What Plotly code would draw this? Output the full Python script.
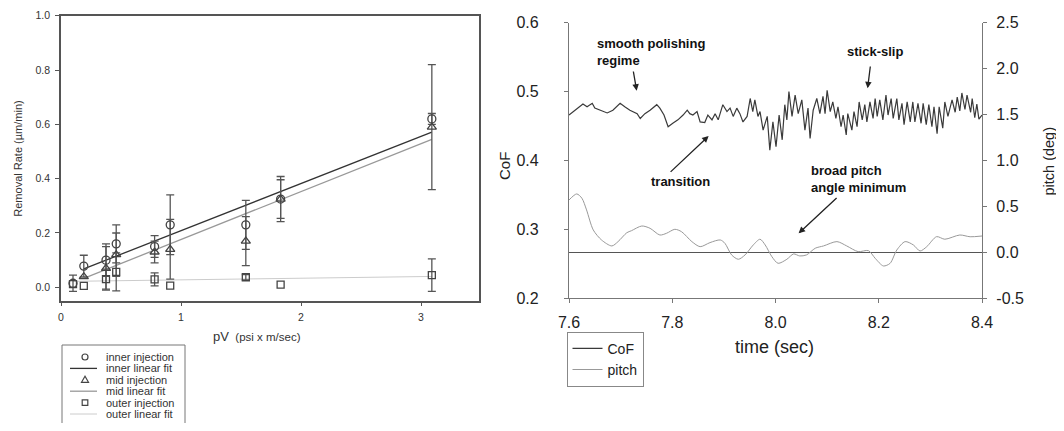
import plotly.graph_objects as go

# page body adds an 8px margin; the figure is sized/positioned to compensate
OFF = 8
W, H = 1064 - 2 * OFF, 431 - 2 * OFF

# ---------------- left panel data ----------------
pv = [0.10, 0.19, 0.375, 0.46, 0.78, 0.91, 1.54, 1.83, 3.09]
inner_rate = [0.015, 0.078, 0.10, 0.16, 0.15, 0.23, 0.23, 0.325, 0.62]
inner_err = [0.03, 0.04, 0.06, 0.07, 0.04, 0.11, 0.09, 0.083, 0.02]
mid_pv = [0.19, 0.375, 0.46, 0.78, 0.91, 1.54, 1.83, 3.09]
mid_rate = [0.039, 0.07, 0.12, 0.13, 0.14, 0.17, 0.325, 0.59]
mid_err = [0.0, 0.08, 0.08, 0.04, 0.11, 0.09, 0.071, 0.23]
outer_rate = [0.012, 0.005, 0.03, 0.057, 0.029, 0.006, 0.037, 0.01, 0.045]
outer_err = [0.0, 0.0, 0.037, 0.07, 0.024, 0.0, 0.01, 0.0, 0.06]
fit_pv = [0.19, 3.09]
inner_fit = [0.068, 0.571]
mid_fit = [0.033, 0.545]
outer_fit_pv = [0.10, 3.09]
outer_fit = [0.022, 0.040]
left_xticks = [0, 1, 2, 3]
left_yticks = [0.0, 0.2, 0.4, 0.6, 0.8, 1.0]

# ---------------- right panel data ----------------
cof_points = [
    (7.600, 0.466), (7.608, 0.471), (7.627, 0.482), (7.635, 0.478), (7.645, 0.483),
    (7.650, 0.476), (7.666, 0.472), (7.674, 0.469), (7.685, 0.473), (7.699, 0.483),
    (7.708, 0.478), (7.718, 0.473), (7.732, 0.468), (7.738, 0.461), (7.747, 0.468),
    (7.757, 0.473), (7.770, 0.481), (7.776, 0.476), (7.784, 0.466), (7.792, 0.449),
    (7.801, 0.454), (7.811, 0.459), (7.821, 0.466), (7.829, 0.473), (7.834, 0.468),
    (7.840, 0.466), (7.848, 0.471), (7.854, 0.456), (7.863, 0.455), (7.869, 0.466),
    (7.877, 0.459), (7.883, 0.468), (7.889, 0.459), (7.898, 0.481), (7.906, 0.471),
    (7.912, 0.476), (7.918, 0.464), (7.925, 0.476), (7.931, 0.468), (7.937, 0.456),
    (7.945, 0.464), (7.951, 0.490), (7.956, 0.471), (7.960, 0.488), (7.966, 0.464),
    (7.970, 0.471), (7.976, 0.444), (7.984, 0.464), (7.989, 0.415), (7.995, 0.456),
    (8.001, 0.420), (8.007, 0.466), (8.013, 0.430), (8.018, 0.481), (8.022, 0.459),
    (8.026, 0.500), (8.032, 0.464), (8.038, 0.495), (8.044, 0.468), (8.051, 0.488),
    (8.057, 0.444), (8.063, 0.476), (8.067, 0.432), (8.073, 0.473), (8.080, 0.490),
    (8.086, 0.468), (8.092, 0.493), (8.096, 0.468), (8.100, 0.502), (8.106, 0.471),
    (8.111, 0.485), (8.117, 0.461), (8.121, 0.478), (8.127, 0.449), (8.131, 0.466),
    (8.137, 0.437), (8.140, 0.468), (8.148, 0.444), (8.152, 0.471), (8.158, 0.449),
    (8.162, 0.485), (8.168, 0.459), (8.173, 0.481), (8.177, 0.456), (8.183, 0.485),
    (8.189, 0.461), (8.193, 0.490), (8.197, 0.464), (8.202, 0.488), (8.208, 0.459),
    (8.214, 0.495), (8.218, 0.466), (8.224, 0.490), (8.228, 0.461), (8.235, 0.490),
    (8.239, 0.459), (8.245, 0.483), (8.249, 0.452), (8.255, 0.485), (8.261, 0.456),
    (8.266, 0.485), (8.270, 0.456), (8.276, 0.483), (8.282, 0.454), (8.286, 0.483),
    (8.292, 0.452), (8.297, 0.481), (8.303, 0.449), (8.307, 0.478), (8.313, 0.439),
    (8.317, 0.478), (8.324, 0.447), (8.328, 0.485), (8.334, 0.464), (8.342, 0.488),
    (8.348, 0.470), (8.352, 0.492), (8.357, 0.472), (8.361, 0.498), (8.367, 0.474),
    (8.371, 0.495), (8.378, 0.470), (8.381, 0.490), (8.386, 0.462), (8.390, 0.482),
    (8.394, 0.460), (8.400, 0.466),
]
cof_time = [p[0] for p in cof_points]
cof_value = [p[1] for p in cof_points]

pitch_points = [
    (7.600, 0.570), (7.615, 0.636), (7.625, 0.589), (7.634, 0.462), (7.647, 0.244),
    (7.663, 0.135), (7.683, 0.070), (7.695, 0.117), (7.712, 0.214), (7.721, 0.236),
    (7.741, 0.287), (7.757, 0.262), (7.776, 0.189), (7.789, 0.208), (7.805, 0.251),
    (7.818, 0.225), (7.838, 0.117), (7.854, 0.062), (7.873, 0.106), (7.893, 0.135),
    (7.902, 0.099), (7.915, -0.028), (7.928, -0.075), (7.941, -0.028), (7.957, 0.081),
    (7.970, 0.143), (7.980, 0.081), (7.993, -0.047), (8.005, -0.119), (8.022, -0.075),
    (8.035, -0.017), (8.047, -0.039), (8.060, -0.028), (8.077, 0.045), (8.093, 0.070),
    (8.119, 0.117), (8.138, 0.070), (8.160, 0.008), (8.180, 0.019), (8.193, -0.064),
    (8.209, -0.148), (8.222, -0.119), (8.235, 0.026), (8.251, 0.117), (8.267, 0.081),
    (8.280, 0.015), (8.293, 0.062), (8.312, 0.171), (8.328, 0.143), (8.357, 0.189),
    (8.377, 0.170), (8.400, 0.178),
]
pitch_time = [p[0] for p in pitch_points]
pitch_value = [p[1] for p in pitch_points]

time_ticks = [7.6, 7.8, 8.0, 8.2, 8.4]
cof_ticks = [0.2, 0.3, 0.4, 0.5, 0.6]
pitch_ticks = [-0.5, 0.0, 0.5, 1.0, 1.5, 2.0, 2.5]
pitch_tick_labels = ["-0.5", "0.0", "0.5", "1.0", "1.5", "2.0", "2.5"]

FONT = "Arial, Liberation Sans, sans-serif"
DARK = "#444444"
INNER_C, MID_C, OUTER_C = "#333333", "#999999", "#cccccc"
COF_C, PITCH_C = "#3a3a3a", "#999999"


def px(x):
    return (x - OFF) / W


def py(y):
    return 1 - (y - OFF) / H


fig = go.Figure()


def err_trace(xs, ys, es):
    sel = [i for i, e in enumerate(es) if e > 0]
    return go.Scatter(
        x=[xs[i] for i in sel], y=[ys[i] for i in sel], mode="markers",
        marker=dict(size=1, color="rgba(0,0,0,0)"),
        error_y=dict(type="data", array=[es[i] for i in sel], color="#555555",
                     thickness=1.3, width=4),
        showlegend=False, hoverinfo="skip", xaxis="x", yaxis="y")


# fit lines
fig.add_trace(go.Scatter(x=outer_fit_pv, y=outer_fit, mode="lines",
                         line=dict(color=OUTER_C, width=1), showlegend=False,
                         xaxis="x", yaxis="y"))
fig.add_trace(go.Scatter(x=fit_pv, y=mid_fit, mode="lines",
                         line=dict(color=MID_C, width=1.3), showlegend=False,
                         xaxis="x", yaxis="y"))
fig.add_trace(go.Scatter(x=fit_pv, y=inner_fit, mode="lines",
                         line=dict(color=INNER_C, width=1.3), showlegend=False,
                         xaxis="x", yaxis="y"))
# error bars
fig.add_trace(err_trace(pv, inner_rate, inner_err))
fig.add_trace(err_trace(mid_pv, mid_rate, mid_err))
fig.add_trace(err_trace(pv, outer_rate, outer_err))
# markers
fig.add_trace(go.Scatter(x=pv, y=inner_rate, mode="markers",
                         marker=dict(symbol="circle-open", size=8, color=DARK,
                                     line=dict(width=1.3)),
                         showlegend=False, xaxis="x", yaxis="y"))
fig.add_trace(go.Scatter(x=mid_pv, y=mid_rate, mode="markers",
                         marker=dict(symbol="triangle-up-open", size=8, color=DARK,
                                     line=dict(width=1.3)),
                         showlegend=False, xaxis="x", yaxis="y"))
fig.add_trace(go.Scatter(x=pv, y=outer_rate, mode="markers",
                         marker=dict(symbol="square-open", size=7, color=DARK,
                                     line=dict(width=1.3)),
                         showlegend=False, xaxis="x", yaxis="y"))

# right panel
fig.add_trace(go.Scatter(x=cof_time, y=cof_value, mode="lines", name="CoF",
                         line=dict(color=COF_C, width=1.2),
                         xaxis="x2", yaxis="y2", legend="legend"))
fig.add_trace(go.Scatter(x=pitch_time, y=pitch_value, mode="lines", name="pitch",
                         line=dict(color=PITCH_C, width=1, shape="spline", smoothing=0.8),
                         xaxis="x2", yaxis="y3", legend="legend"))

left_ax = dict(showline=True, mirror=True, linecolor="#555555", linewidth=1.5,
               ticks="outside", ticklen=4, tickcolor="#555555", tickwidth=1.2,
               showgrid=False, zeroline=False,
               tickfont=dict(family=FONT, size=10.5, color="#333333"))
right_ax = dict(showline=True, linecolor="#777777", linewidth=1.2,
                ticks="outside", ticklen=4, tickcolor="#777777", tickwidth=1.2,
                showgrid=False,
                tickfont=dict(family=FONT, size=16, color="#222222"))

fig.update_layout(
    width=W, height=H, margin=dict(l=0, r=0, t=0, b=0),
    paper_bgcolor="white", plot_bgcolor="white", template="none",
    font=dict(family=FONT, color="#222222"),
    showlegend=True,
    xaxis=dict(domain=[px(61), px(479)], anchor="y", range=[0, 3.483],
               tickvals=left_xticks, ticklabelstandoff=2, **left_ax),
    yaxis=dict(domain=[py(300.7), py(15.7)], anchor="x", range=[-0.0493, 1.0],
               tickvals=left_yticks, tickformat=".1f", ticklabelstandoff=3, **left_ax),
    xaxis2=dict(domain=[px(569), px(982)], anchor="y2", range=[7.6, 8.4],
                tickvals=time_ticks, tickformat=".1f", ticklabelstandoff=5,
                zeroline=False, **right_ax),
    yaxis2=dict(domain=[py(298.3), py(22.7)], anchor="x2", range=[0.2, 0.6],
                tickvals=cof_ticks, tickformat=".1f", ticklabelstandoff=22,
                zeroline=False, **right_ax),
    yaxis3=dict(overlaying="y2", side="right", anchor="x2", range=[-0.5, 2.5],
                tickvals=pitch_ticks, ticktext=pitch_tick_labels, ticklabelstandoff=6,
                zeroline=True, zerolinecolor="#555555", zerolinewidth=1.2, **right_ax),
    legend=dict(x=px(566.5), y=py(331.7), xanchor="left", yanchor="top",
                bordercolor="#888888", borderwidth=1, bgcolor="white",
                font=dict(family=FONT, size=14, color="#222222"),
                tracegroupgap=0),
)

annotations = []
# axis titles
annotations.append(dict(text="Removal Rate (µm/min)", x=px(17.7), y=py(159),
                        xref="paper", yref="paper", xanchor="center", yanchor="middle",
                        textangle=-90, showarrow=False,
                        font=dict(family=FONT, size=11, color="#333333")))
annotations.append(dict(text="pV<span style='font-size:11.5px'>\u00a0\u00a0(psi x m/sec)</span>",
                        x=px(211), y=py(336), xref="paper", yref="paper",
                        xanchor="left", yanchor="middle", showarrow=False,
                        font=dict(family=FONT, size=13, color="#333333")))
annotations.append(dict(text="CoF", x=px(504), y=py(166), xref="paper", yref="paper",
                        xanchor="center", yanchor="middle",
                        textangle=-90, showarrow=False,
                        font=dict(family=FONT, size=15, color="#222222")))
annotations.append(dict(text="pitch (deg)", x=px(1048.5), y=py(161), xref="paper",
                        yref="paper", xanchor="center", yanchor="middle",
                        textangle=-90, showarrow=False,
                        font=dict(family=FONT, size=14.5, color="#222222")))
annotations.append(dict(text="time (sec)", x=px(774), y=py(346.7), xref="paper",
                        yref="paper", xanchor="center", yanchor="middle", showarrow=False,
                        font=dict(family=FONT, size=18, color="#222222")))

# bold notes
bold_font = dict(family=FONT, size=13, color="#111111")
for txt, lx, ly in [("smooth polishing<br>regime", 595.3, 52.5),
                    ("stick-slip", 844.6, 52), ("transition", 649.3, 181),
                    ("broad pitch<br>angle minimum", 809.4, 179)]:
    annotations.append(dict(text="<b>%s</b>" % txt.replace("<br>", "</b><br><b>"),
                            x=px(lx), y=py(ly), xref="paper",
                            yref="paper", xanchor="left", yanchor="middle", align="left",
                            showarrow=False, font=bold_font))
# arrows
for tx, ty, ax, ay in [(636.7, 90.7, -3.6, -20.7), (867.6, 88.3, 2.9, -23.3),
                       (708.6, 136, -39.5, 37.3), (798.6, 233.3, 39.5, -36.6)]:
    annotations.append(dict(text="", x=px(tx), y=py(ty), xref="paper", yref="paper",
                            ax=ax, ay=ay, showarrow=True, arrowhead=2, arrowsize=1,
                            arrowwidth=1.3, arrowcolor="#222222", standoff=0))

# manual legend for the left panel
shapes = []
shapes.append(dict(type="rect", xref="paper", yref="paper", x0=px(62), x1=px(185),
                   y0=py(445), y1=py(345), line=dict(color="#777777", width=1),
                   fillcolor="white", layer="below"))
rows = [357, 368.4, 379.8, 391.2, 402.6, 414]
labels = ["inner injection", "inner linear fit", "mid injection", "mid linear fit",
          "outer injection", "outer linear fit"]
for lab, ry in zip(labels, rows):
    annotations.append(dict(text=lab, x=px(104), y=py(ry), xref="paper", yref="paper",
                            xanchor="left", yanchor="middle", showarrow=False,
                            font=dict(family=FONT, size=11, color="#333333")))
cx = 85
shapes.append(dict(type="circle", xref="paper", yref="paper", x0=px(cx - 3), x1=px(cx + 3),
                   y0=py(rows[0] + 3), y1=py(rows[0] - 3), line=dict(color=DARK, width=1.2)))
shapes.append(dict(type="line", xref="paper", yref="paper", x0=px(70), x1=px(97),
                   y0=py(rows[1]), y1=py(rows[1]), line=dict(color=INNER_C, width=1.3)))
tri = "M %f,%f L %f,%f L %f,%f Z" % (px(cx), py(rows[2] - 3.5), px(cx - 3.5), py(rows[2] + 2.5),
                                     px(cx + 3.5), py(rows[2] + 2.5))
shapes.append(dict(type="path", xref="paper", yref="paper", path=tri,
                   line=dict(color=DARK, width=1.2)))
shapes.append(dict(type="line", xref="paper", yref="paper", x0=px(70), x1=px(97),
                   y0=py(rows[3]), y1=py(rows[3]), line=dict(color=MID_C, width=1.3)))
shapes.append(dict(type="rect", xref="paper", yref="paper", x0=px(cx - 2.8), x1=px(cx + 2.8),
                   y0=py(rows[4] + 2.8), y1=py(rows[4] - 2.8), line=dict(color=DARK, width=1.2)))
shapes.append(dict(type="line", xref="paper", yref="paper", x0=px(70), x1=px(97),
                   y0=py(rows[5]), y1=py(rows[5]), line=dict(color=OUTER_C, width=1)))

fig.update_layout(annotations=annotations, shapes=shapes)
fig.write_html("out.html")
